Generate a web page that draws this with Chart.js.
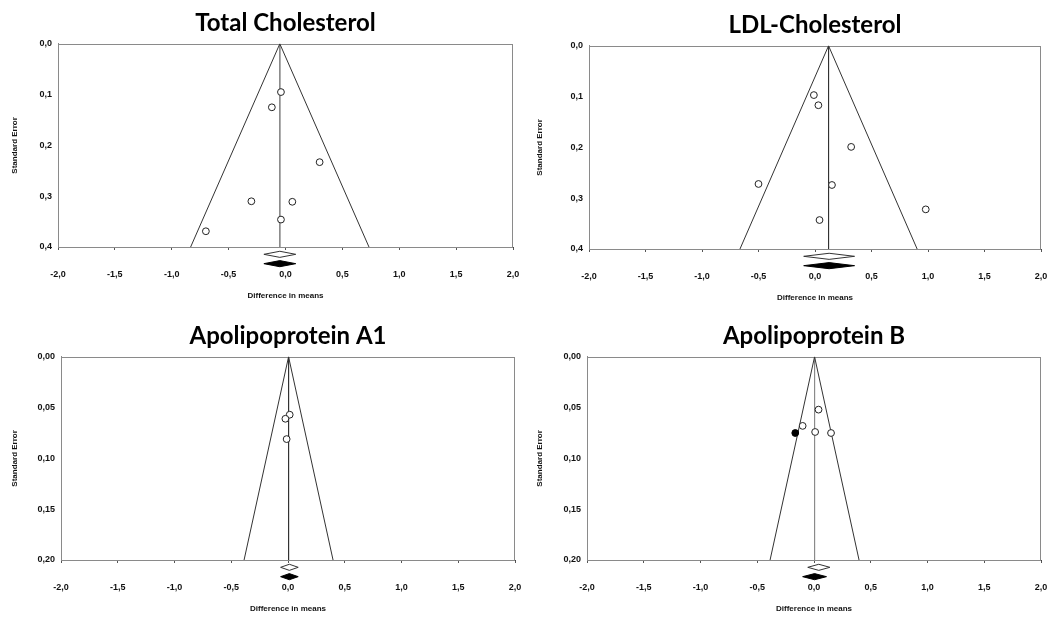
<!DOCTYPE html>
<html>
<head>
<meta charset="utf-8">
<script src="https://cdn.jsdelivr.net/npm/chart.js@4.4.1/dist/chart.umd.min.js"></script>
<style>
  html, body { margin: 0; padding: 0; background: #fff; }
  #page { position: relative; width: 1051px; height: 617px; overflow: hidden; }
  canvas { position: absolute; }
</style>
</head>
<body>
<div id="page">
  <canvas id="c1" width="525" height="305" style="left:0px;top:0px"></canvas>
  <canvas id="c2" width="526" height="305" style="left:525px;top:2px"></canvas>
  <canvas id="c3" width="525" height="305" style="left:0px;top:313px"></canvas>
  <canvas id="c4" width="526" height="305" style="left:525px;top:313px"></canvas>
</div>
<script>
// panel titles
const titles = ['Total Cholesterol', 'LDL-Cholesterol', 'Apolipoprotein A1', 'Apolipoprotein B'];

// x axis: difference in means
const xTicks = [-2.0, -1.5, -1.0, -0.5, 0.0, 0.5, 1.0, 1.5, 2.0];

// studies (difference in means / standard error)
const tcDiff = [-0.04, -0.12, 0.30, -0.30, 0.06, -0.04, -0.70];
const tcSE   = [0.095, 0.125, 0.233, 0.310, 0.311, 0.346, 0.369];
const ldlDiff = [-0.01, 0.03, 0.32, -0.50, 0.15, 0.98, 0.04];
const ldlSE   = [0.097, 0.117, 0.199, 0.272, 0.274, 0.322, 0.343];
const a1Diff = [0.015, -0.023, -0.012];
const a1SE   = [0.057, 0.061, 0.081];
const bDiff = [0.04, -0.10, 0.01, 0.15];
const bSE   = [0.052, 0.068, 0.074, 0.075];
// imputed (trim and fill)
const bImpDiff = [-0.165];
const bImpSE   = [0.075];

// funnel centre per panel
const funnelMean = [-0.05, 0.12, 0.005, 0.005];
// summary effects: [low, point, high]
const observedSummary = [[-0.19, -0.05, 0.09], [-0.10, 0.125, 0.35], [-0.065, 0.012, 0.09], [-0.055, 0.042, 0.14]];
const adjustedSummary = [[-0.19, -0.05, 0.09], [-0.10, 0.125, 0.35], [-0.065, 0.012, 0.09], [-0.10, 0.005, 0.11]];

// y axis (standard error)
const seMax = [0.4, 0.4, 0.2, 0.2];
const seStep = [0.1, 0.1, 0.05, 0.05];
const seDecimals = [1, 1, 2, 2];

const comma = (v, d) => v.toFixed(d).replace('.', ',');
const pts = (xs, ys) => xs.map((x, i) => ({ x: x, y: ys[i] }));

// frame around plot area
const framePlugin = {
  id: 'frame',
  beforeDatasetsDraw(chart) {
    const a = chart.chartArea, ctx = chart.ctx;
    ctx.save();
    ctx.strokeStyle = '#8a8a8a';
    ctx.lineWidth = 1;
    ctx.strokeRect(Math.round(a.left) + 0.5, Math.round(a.top) + 0.5,
      Math.round(a.right - a.left) - 1, Math.round(a.bottom - a.top));
    ctx.restore();
  }
};

// fill the summary diamonds (they sit below the axis, outside the chart area)
const diamondPlugin = {
  id: 'diamondFill',
  beforeDatasetDraw(chart, args) {
    const ds = chart.data.datasets[args.index];
    if (!ds.diamondColor || !args.meta.dataset) return;
    const ctx = chart.ctx;
    ctx.save();
    ctx.beginPath();
    args.meta.dataset.path(ctx);
    ctx.closePath();
    ctx.fillStyle = ds.diamondColor;
    ctx.fill();
    ctx.restore();
  }
};

function diamond(s, yRow, h) {
  return [{ x: s[0], y: yRow }, { x: s[1], y: yRow - h }, { x: s[2], y: yRow },
          { x: s[1], y: yRow + h }, { x: s[0], y: yRow }];
}

function makePanel(id, i, obs, imp, meanColor, yAxisWidth, rightPad) {
  const m = funnelMean[i], top = seMax[i];
  const h = top * 0.015;
  const datasets = [
    { type: 'scatter', data: obs, pointRadius: 3.4, pointBorderWidth: 1,
      pointBorderColor: '#222', pointBackgroundColor: '#fff', order: 1 },
    { type: 'scatter', data: imp, pointRadius: 3.4, pointBorderWidth: 1,
      pointBorderColor: '#000', pointBackgroundColor: '#000', order: 0 },
    { type: 'line', data: [{ x: m - 1.96 * top, y: top }, { x: m, y: 0 }, { x: m + 1.96 * top, y: top }],
      borderColor: '#333', borderWidth: 1, pointRadius: 0, fill: false, tension: 0, order: 3 },
    { type: 'line', data: [{ x: m, y: 0 }, { x: m, y: top }],
      borderColor: meanColor, borderWidth: 1, pointRadius: 0, fill: false, order: 4 },
    { type: 'line', data: diamond(observedSummary[i], top * 1.036, h), diamondColor: '#fff',
      borderColor: '#333', borderWidth: 1, pointRadius: 0, fill: false, clip: false, order: 2 },
    { type: 'line', data: diamond(adjustedSummary[i], top * 1.082, h), diamondColor: '#000',
      borderColor: '#000', borderWidth: 1, pointRadius: 0, fill: false, clip: false, order: 2 }
  ];

  new Chart(document.getElementById(id), {
    type: 'scatter',
    data: { datasets: datasets },
    plugins: [framePlugin, diamondPlugin],
    options: {
      responsive: false,
      animation: false,
      events: [],
      layout: { padding: 0 },
      plugins: {
        legend: { display: false },
        tooltip: { enabled: false },
        title: {
          display: true, text: titles[i], fullSize: false, color: '#000',
          font: { family: 'Lato', weight: 'bold', size: 24, lineHeight: 1.2 },
          padding: { top: 9, bottom: 6 }
        }
      },
      scales: {
        x: {
          type: 'linear', min: -2, max: 2,
          afterBuildTicks: s => { s.ticks = xTicks.map(v => ({ value: v })); },
          afterFit: s => { s.height = 58; s.paddingRight = rightPad; s.paddingLeft = 0; },
          ticks: {
            callback: v => comma(v, 1), color: '#111', padding: 19, maxRotation: 0,
            font: { family: 'Liberation Sans', weight: 'bold', size: 9 }
          },
          grid: { display: true, drawOnChartArea: false, drawTicks: true, tickLength: 3, color: '#555' },
          border: { display: true, color: '#444' },
          title: {
            display: true, text: 'Difference in means', color: '#111',
            font: { family: 'Liberation Sans', weight: 'bold', size: 8, lineHeight: 1.2 },
            padding: { top: 0, bottom: 4 }
          }
        },
        y: {
          type: 'linear', reverse: true, min: 0, max: top,
          afterFit: s => { s.width = yAxisWidth; },
          ticks: {
            stepSize: seStep[i], callback: v => comma(v, seDecimals[i]), color: '#111', padding: 6,
            font: { family: 'Liberation Sans', weight: 'bold', size: 9 }
          },
          grid: { display: false, drawTicks: false },
          border: { display: true, color: '#8a8a8a' },
          title: {
            display: true, text: 'Standard Error', color: '#111',
            font: { family: 'Liberation Sans', weight: 'bold', size: 8, lineHeight: 1.2 },
            padding: { top: 10, bottom: 0 }
          }
        }
      }
    }
  });
}

makePanel('c1', 0, pts(tcDiff, tcSE), [], '#8a8a8a', 58, 12);
makePanel('c2', 1, pts(ldlDiff, ldlSE), [], '#333', 64, 10);
makePanel('c3', 2, pts(a1Diff, a1SE), [], '#333', 61, 10);
makePanel('c4', 3, pts(bDiff, bSE), pts(bImpDiff, bImpSE), '#8a8a8a', 62, 10);
</script>
</body>
</html>
